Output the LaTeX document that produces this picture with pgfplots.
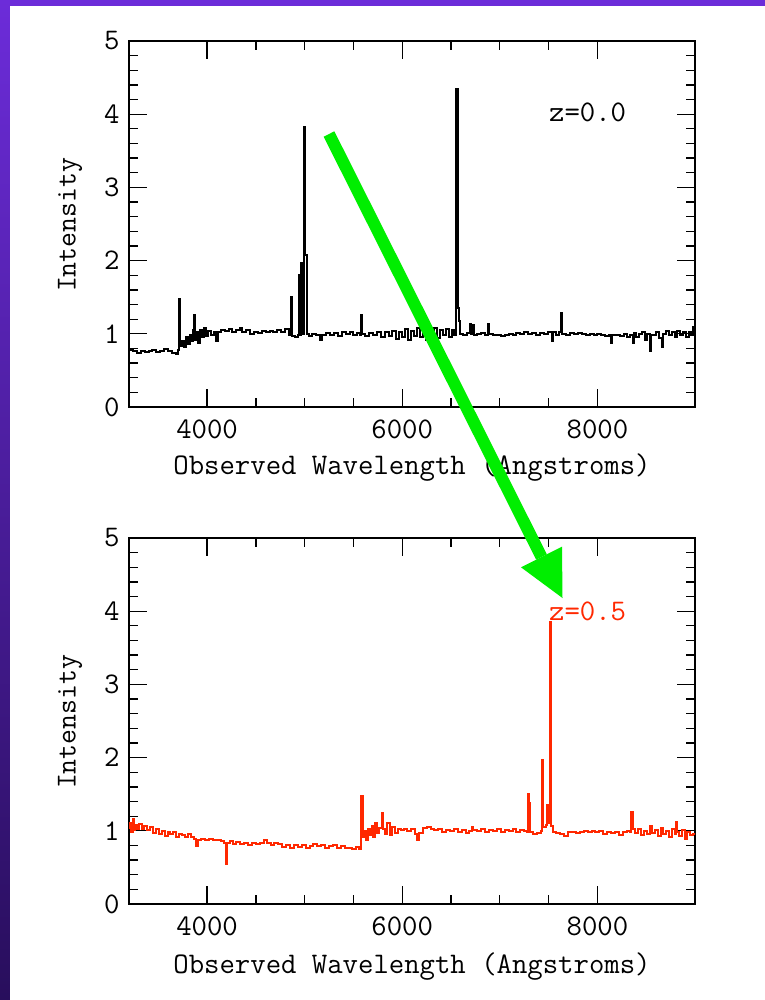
\documentclass[border=0pt]{standalone}
\usepackage{pgfplots}
\usepackage{pgfplotstable}
\pgfplotsset{compat=1.18}
\usetikzlibrary{shadings}

\definecolor{slidetop}{RGB}{108,44,217}
\definecolor{slidebot}{RGB}{40,14,92}
\definecolor{zred}{RGB}{255,40,0}
\definecolor{arrowgreen}{RGB}{0,238,0}
\newcommand{\labfont}{\fontsize{30}{32}\selectfont\ttfamily}
\newcommand{\ylabfont}{\fontsize{29}{31}\selectfont\ttfamily}

% rest-frame spectrum (z = 0.0)
\pgfplotstableread{
lam I
3200 0.78
3240 0.76
3280 0.74
3320 0.77
3360 0.75
3400 0.76
3440 0.78
3480 0.75
3520 0.77
3560 0.79
3600 0.76
3640 0.74
3680 0.73
3700 0.78
3715 1.48
3727 0.84
3745 0.90
3760 0.82
3780 0.95
3800 0.86
3820 0.98
3840 0.90
3855 1.05
3866 1.26
3878 0.92
3895 1.02
3910 0.88
3930 1.05
3950 0.95
3970 1.08
3990 0.97
4010 1.04
4040 0.99
4070 1.03
4090 0.90
4110 1.02
4140 1.05
4180 1.04
4220 1.07
4260 1.03
4300 1.05
4340 1.08
4360 1.02
4400 1.05
4440 1.00
4480 1.03
4520 1.01
4560 1.04
4600 1.02
4640 1.04
4680 1.02
4720 1.05
4760 1.03
4800 1.06
4835 0.98
4861 1.50
4873 0.97
4900 0.95
4930 0.98
4940 1.80
4950 0.98
4959 1.97
4971 1.00
4995 3.83
5007 2.08
5019 1.00
5040 0.97
5080 1.00
5120 0.98
5160 0.92
5180 0.98
5220 1.01
5260 0.98
5300 1.01
5340 0.97
5380 1.02
5420 1.00
5460 1.03
5500 0.99
5540 1.01
5565 0.98
5577 1.26
5589 1.00
5620 0.97
5660 1.01
5700 0.98
5740 1.02
5780 0.95
5820 1.03
5860 0.97
5900 1.04
5940 0.93
5970 1.02
6000 0.96
6030 1.06
6060 0.92
6090 1.04
6120 0.97
6150 1.08
6180 0.95
6210 1.05
6240 0.92
6270 1.06
6300 0.96
6330 1.08
6360 0.94
6390 1.05
6420 0.98
6450 1.07
6480 0.95
6510 1.05
6535 0.98
6553 4.35
6567 1.35
6580 1.18
6595 1.00
6620 0.99
6660 1.01
6690 1.14
6705 1.00
6720 1.12
6735 0.99
6770 1.00
6810 1.01
6850 0.99
6880 1.14
6892 1.00
6930 0.98
6970 0.99
7010 0.97
7050 0.98
7090 1.00
7130 0.99
7170 1.01
7210 1.00
7250 1.02
7290 1.00
7330 1.01
7370 0.99
7410 1.01
7450 1.00
7490 1.02
7530 0.90
7545 1.02
7580 0.98
7610 1.03
7630 1.28
7642 1.00
7680 0.99
7720 1.01
7760 1.00
7800 1.01
7840 1.00
7880 0.99
7920 1.00
7960 0.98
8000 1.00
8040 0.99
8080 0.97
8120 0.98
8135 0.88
8150 0.98
8190 0.99
8230 0.97
8270 1.00
8300 0.95
8330 0.99
8364 0.87
8380 1.01
8400 0.95
8430 1.00
8460 1.02
8490 0.92
8510 1.00
8538 0.77
8552 0.98
8600 1.02
8630 0.94
8661 0.82
8675 1.00
8700 1.04
8730 0.98
8760 1.03
8790 0.96
8820 1.04
8850 0.98
8880 1.02
8910 0.96
8940 1.03
8960 0.98
8980 1.09
9000 1.04
}\speczero

% the same source seen at z = 0.5
\pgfplotstableread{
lam I
3200 1.04
3212 1.10
3224 0.99
3236 1.16
3248 1.01
3265 1.08
3285 1.02
3305 1.09
3330 1.03
3355 1.07
3385 1.01
3415 1.05
3445 0.97
3475 1.02
3505 0.96
3535 1.00
3565 0.93
3595 0.98
3625 0.95
3655 0.98
3685 0.92
3715 0.96
3745 0.94
3775 0.91
3805 0.95
3835 0.92
3865 0.89
3890 0.79
3905 0.88
3940 0.89
3980 0.87
4020 0.89
4060 0.87
4100 0.88
4140 0.86
4175 0.84
4190 0.55
4205 0.83
4240 0.86
4270 0.82
4300 0.85
4340 0.82
4380 0.84
4420 0.81
4460 0.83
4500 0.82
4540 0.84
4580 0.87
4610 0.83
4650 0.81
4690 0.84
4730 0.82
4770 0.78
4810 0.81
4850 0.77
4890 0.80
4930 0.78
4970 0.81
5010 0.77
5050 0.79
5090 0.82
5130 0.79
5170 0.80
5210 0.77
5250 0.79
5290 0.80
5330 0.76
5370 0.79
5410 0.77
5450 0.76
5490 0.75
5530 0.78
5560 0.75
5582 1.48
5594 0.92
5610 1.00
5625 0.88
5645 1.03
5665 0.94
5685 1.07
5705 0.92
5725 1.10
5745 0.97
5765 1.04
5790 1.24
5803 1.02
5820 0.96
5845 1.10
5870 0.94
5900 1.05
5930 0.97
5960 1.03
5990 1.01
6020 1.03
6050 1.00
6090 1.02
6130 0.95
6150 0.88
6170 0.97
6210 1.04
6250 1.05
6290 1.03
6330 1.01
6370 1.02
6410 0.99
6450 1.01
6490 1.00
6530 1.02
6570 0.99
6610 1.01
6650 0.97
6680 1.00
6710 1.05
6730 1.01
6770 1.00
6810 1.02
6850 0.99
6890 1.01
6930 1.00
6970 1.02
7010 0.99
7050 1.01
7090 1.00
7130 1.02
7170 0.99
7210 1.01
7250 1.00
7275 0.98
7285 1.50
7296 1.38
7308 0.98
7340 0.95
7380 0.97
7420 1.00
7435 1.97
7447 1.05
7470 1.08
7484 1.35
7500 1.10
7512 3.85
7524 1.06
7540 0.98
7580 0.97
7620 0.95
7660 0.93
7700 0.98
7740 0.99
7780 0.97
7820 0.99
7860 1.00
7900 0.98
7940 1.00
7980 0.98
8020 1.00
8060 0.96
8100 0.99
8140 0.97
8180 0.99
8220 0.94
8260 0.98
8300 1.00
8335 0.98
8348 1.26
8360 1.02
8390 0.97
8420 1.02
8450 0.94
8480 1.00
8510 0.96
8540 1.06
8560 0.97
8590 1.01
8620 0.93
8650 1.04
8670 0.95
8700 1.00
8730 0.91
8760 1.02
8790 0.96
8804 1.12
8816 0.98
8840 0.93
8870 1.01
8900 0.89
8920 0.98
8950 0.94
8980 0.96
9000 0.97
}\spechalf

\pgfplotsset{
  specax/.style={
    scale only axis, width=566bp, height=366bp,
    xmin=3200, xmax=9000, ymin=0, ymax=5,
    xtick={4000,6000,8000}, minor x tick num=3,
    ytick={0,1,2,3,4,5}, minor y tick num=4,
    tick align=inside,
    major tick length=18bp, minor tick length=9bp,
    axis line style={line width=1.4bp},
    every tick/.style={black, line width=1.3bp},
    tick label style={font=\labfont},
    /pgf/number format/assume math mode=true,
    /pgf/number format/1000 sep={},
    xticklabel style={yshift=-9bp},
    yticklabel style={xshift=-6bp},
    clip=true,
  },
}

\begin{document}
\begin{tikzpicture}
\useasboundingbox (0,0) rectangle (765bp,-1000bp);
% slide background
\shade[top color=slidetop, bottom color=slidebot] (0,0) rectangle (765bp,-1000bp);
\fill[white] (10bp,-6bp) rectangle (765bp,-1000bp);

% upper panel: z = 0.0
\begin{axis}[specax, at={(129bp,-407bp)}, anchor=south west]
  \addplot[const plot, line width=2bp, black] table[x=lam, y=I] {\speczero};
  \node[font=\labfont, black] at (axis cs:7900,4.02) {z=0.0};
\end{axis}
\node[font=\ylabfont, rotate=90] at (70bp,-225bp) {Intensity};
\node[font=\labfont] at (412bp,-468bp) {Observed Wavelength (Angstroms)};

% lower panel: z = 0.5
\begin{axis}[specax, at={(129bp,-904bp)}, anchor=south west]
  \addplot[const plot, line width=2bp, zred] table[x=lam, y=I] {\spechalf};
  \node[font=\labfont, zred] at (axis cs:7900,4.0) {z=0.5};
\end{axis}
\node[font=\ylabfont, rotate=90] at (70bp,-722bp) {Intensity};
\node[font=\labfont] at (412bp,-967bp) {Observed Wavelength (Angstroms)};

% redshift arrow
\draw[arrowgreen, line width=12bp, line cap=butt] (329bp,-134bp) -- (541.5bp,-557bp);
\fill[arrowgreen] (521bp,-567.3bp) -- (562bp,-546.7bp) -- (562.5bp,-598bp) -- cycle;
\end{tikzpicture}
\end{document}
